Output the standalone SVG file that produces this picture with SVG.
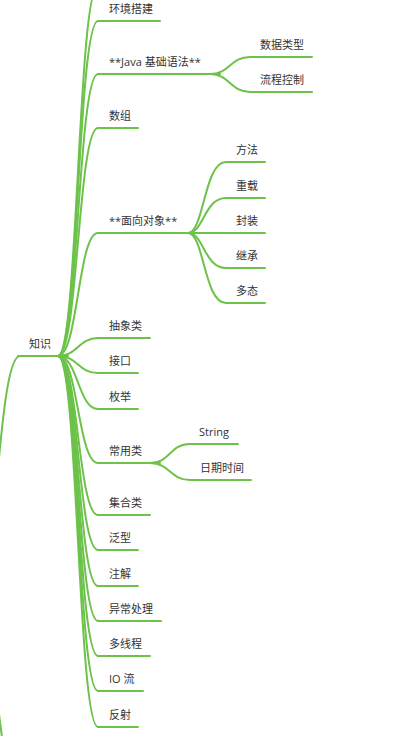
<svg xmlns="http://www.w3.org/2000/svg" width="404" height="736" viewBox="0 0 404 736">
<style>
.l{fill:none;stroke:#6cc24a;stroke-width:2;stroke-linecap:round}
.t{font-family:"Open Sans","Noto Sans","Noto Sans CJK SC",sans-serif;font-size:11px;fill:#333}
</style>
<rect width="404" height="736" fill="#fff"/>
<g id="connectors">
<path class="l" d="M-26,600C-3,600 -3,356 20,356"/>
<path class="l" d="M-26,600C-3,600 -3,795 20,795"/>
<path class="l" d="M58,356C78,356 78,-14 98,-14"/>
<path class="l" d="M58,356C78,356 78,21 98,21"/>
<path class="l" d="M58,356C78,356 78,74 98,74"/>
<path class="l" d="M58,356C78,356 78,128 98,128"/>
<path class="l" d="M58,356C78,356 78,233 98,233"/>
<path class="l" d="M58,356C78,356 78,338 98,338"/>
<path class="l" d="M58,356C78,356 78,373 98,373"/>
<path class="l" d="M58,356C78,356 78,409 98,409"/>
<path class="l" d="M58,356C78,356 78,463 98,463"/>
<path class="l" d="M58,356C78,356 78,515 98,515"/>
<path class="l" d="M58,356C78,356 78,550 98,550"/>
<path class="l" d="M58,356C78,356 78,586 98,586"/>
<path class="l" d="M58,356C78,356 78,621 98,621"/>
<path class="l" d="M58,356C78,356 78,656 98,656"/>
<path class="l" d="M58,356C78,356 78,691 98,691"/>
<path class="l" d="M58,356C78,356 78,727 98,727"/>
<path class="l" d="M210,74C230,74 230,57 250,57"/>
<path class="l" d="M210,74C230,74 230,92 250,92"/>
<path class="l" d="M188,233C204,233 204,162 226,162"/>
<path class="l" d="M188,233C204,233 204,198 226,198"/>
<path class="l" d="M188,233C204,233 204,233 226,233"/>
<path class="l" d="M188,233C204,233 204,268 226,268"/>
<path class="l" d="M188,233C204,233 204,303 226,303"/>
<path class="l" d="M150,463C170,463 170,444 190,444"/>
<path class="l" d="M150,463C170,463 170,480 190,480"/>
</g>
<g id="n-root"><path class="l" d="M18,356H68"/><text class="t" x="29" y="348">知识</text></g>
<g id="n-env"><path class="l" d="M98,21H160"/><text class="t" x="109" y="13">环境搭建</text></g>
<g id="n-java"><path class="l" d="M98,74H220"/><text class="t" x="109" y="66">**Java 基础语法**</text></g>
<g id="n-datatype"><path class="l" d="M250,57H312"/><text class="t" x="260" y="49">数据类型</text></g>
<g id="n-flow"><path class="l" d="M250,92H312"/><text class="t" x="260" y="84">流程控制</text></g>
<g id="n-array"><path class="l" d="M98,128H138"/><text class="t" x="109" y="120">数组</text></g>
<g id="n-oop"><path class="l" d="M98,233H196"/><text class="t" x="109" y="225">**面向对象**</text></g>
<g id="n-method"><path class="l" d="M226,162H265"/><text class="t" x="236" y="154">方法</text></g>
<g id="n-overload"><path class="l" d="M226,198H265"/><text class="t" x="236" y="190">重载</text></g>
<g id="n-encap"><path class="l" d="M226,233H265"/><text class="t" x="236" y="225">封装</text></g>
<g id="n-inherit"><path class="l" d="M226,268H265"/><text class="t" x="236" y="260">继承</text></g>
<g id="n-poly"><path class="l" d="M226,303H265"/><text class="t" x="236" y="295">多态</text></g>
<g id="n-abstract"><path class="l" d="M98,338H150"/><text class="t" x="109" y="330">抽象类</text></g>
<g id="n-interface"><path class="l" d="M98,373H138"/><text class="t" x="109" y="365">接口</text></g>
<g id="n-enum"><path class="l" d="M98,409H138"/><text class="t" x="109" y="401">枚举</text></g>
<g id="n-common"><path class="l" d="M98,463H160"/><text class="t" x="109" y="455">常用类</text></g>
<g id="n-string"><path class="l" d="M190,444H238"/><text class="t" x="199" y="436">String</text></g>
<g id="n-datetime"><path class="l" d="M190,480H251"/><text class="t" x="200" y="472">日期时间</text></g>
<g id="n-collection"><path class="l" d="M98,515H150"/><text class="t" x="109" y="507">集合类</text></g>
<g id="n-generic"><path class="l" d="M98,550H138"/><text class="t" x="109" y="542">泛型</text></g>
<g id="n-annotation"><path class="l" d="M98,586H138"/><text class="t" x="109" y="578">注解</text></g>
<g id="n-exception"><path class="l" d="M98,621H161"/><text class="t" x="109" y="613">异常处理</text></g>
<g id="n-thread"><path class="l" d="M98,656H150"/><text class="t" x="109" y="648">多线程</text></g>
<g id="n-io"><path class="l" d="M98,691H143"/><text class="t" x="109" y="683">IO 流</text></g>
<g id="n-reflect"><path class="l" d="M98,727H138"/><text class="t" x="109" y="719">反射</text></g>
</svg>
